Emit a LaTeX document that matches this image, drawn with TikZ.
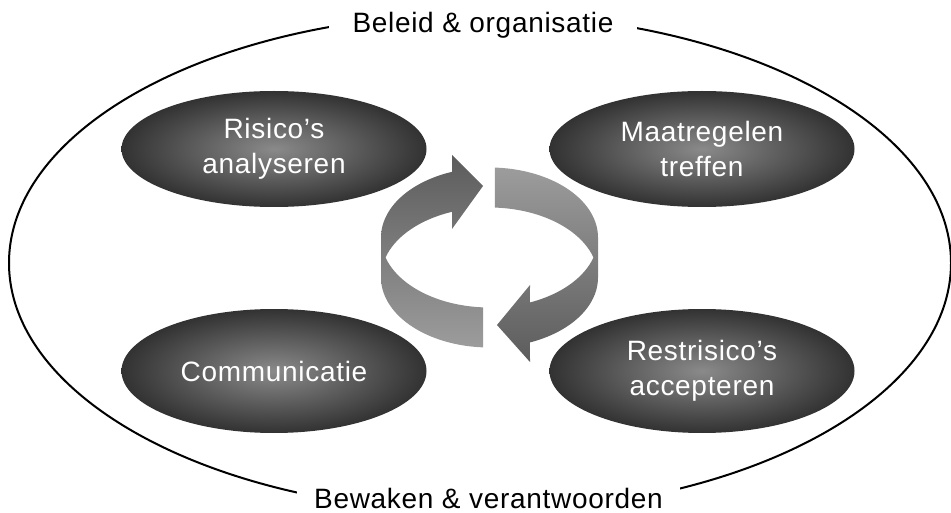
\documentclass[tikz,border=0pt]{standalone}
\usepackage{fontspec}
\setmainfont{Liberation Sans}[LetterSpace=2.5]
\usetikzlibrary{shapes.geometric}
\definecolor{ellin}{RGB}{138,138,138}
\definecolor{ellout}{RGB}{50,50,50}
\definecolor{arrdark}{RGB}{92,92,92}
\definecolor{arrlight}{RGB}{156,156,156}
\tikzset{
  phase/.style={ellipse, minimum width=305pt, minimum height=116pt, inner sep=0pt,
    shade, inner color=ellin, outer color=ellout, text=white, align=center,
    font=\fontsize{28}{35}\selectfont},
  edgelabel/.style={fill=white, inner xsep=0pt, inner ysep=3pt, anchor=base,
    font=\fontsize{28}{34}\selectfont},
  boundary/.style={draw=black, line width=2pt},
  ringL/.style={top color=arrdark, bottom color=arrlight},
  ringR/.style={top color=arrlight, bottom color=arrdark},
}
\begin{document}
\begin{tikzpicture}[x=1pt,y=-1pt]
\useasboundingbox (0,0) rectangle (951,513);
\def\rgcx{489.5}
\def\rgrx{108.5}
\def\rgry{70}
\def\rgyT{237.5}
\def\rgyB{277.5}
% outer boundary
\draw[boundary] (480,263) ellipse [x radius=471pt, y radius=249pt];
\node[edgelabel, minimum width=308pt] (policy) at (483,33) {Beleid \& organisatie};
\node[edgelabel, minimum width=383pt, inner ysep=8pt] (monitor) at (488.5,508.5) {Bewaken \& verantwoorden};
% phases
\node[phase] (analyse) at (274,149) {Risico’s\\analyseren};
\node[phase] (measures) at (702,149) {Maatregelen\\treffen};
\node[phase, minimum height=124pt] (communication) at (274,371) {Communicatie};
\node[phase, minimum height=124pt] (acceptance) at (702,371) {Restrisico’s\\accepteren};
% left circular arrow
\shade[ringL]
  plot[domain=93.4:180, samples=40, variable=\t] ({\rgcx+\rgrx*cos(\t)},{\rgyB+\rgry*sin(\t)})
  -- plot[domain=180:249.8, samples=40, variable=\t] ({\rgcx+\rgrx*cos(\t)},{\rgyT+\rgry*sin(\t)})
  -- (452,155) -- (483,186) -- (452,229)
  -- plot[domain=249.8:196.6, samples=40, variable=\t] ({\rgcx+\rgrx*cos(\t)},{\rgyB+\rgry*sin(\t)})
  -- plot[domain=163.4:93.4, samples=40, variable=\t] ({\rgcx+\rgrx*cos(\t)},{\rgyT+\rgry*sin(\t)})
  -- cycle;
% right circular arrow
\shade[ringR]
  plot[domain=272.9:360, samples=40, variable=\t] ({\rgcx+\rgrx*cos(\t)},{\rgyT+\rgry*sin(\t)})
  -- plot[domain=0:68.1, samples=40, variable=\t] ({\rgcx+\rgrx*cos(\t)},{\rgyB+\rgry*sin(\t)})
  -- (530,362) -- (497,325) -- (530,285)
  -- plot[domain=68.1:16.6, samples=40, variable=\t] ({\rgcx+\rgrx*cos(\t)},{\rgyT+\rgry*sin(\t)})
  -- plot[domain=343.4:272.9, samples=40, variable=\t] ({\rgcx+\rgrx*cos(\t)},{\rgyB+\rgry*sin(\t)})
  -- cycle;
\end{tikzpicture}
\end{document}
